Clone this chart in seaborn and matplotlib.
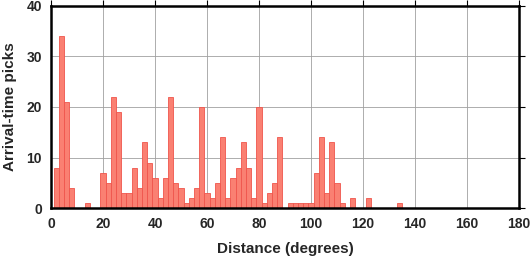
import matplotlib
matplotlib.use("Agg")
import matplotlib.pyplot as plt
import seaborn as sns
import numpy as np

# Bin centers (degrees) and arrival-time pick counts (2-degree bins)
distance = [2, 4, 6, 8, 14,
            20, 22, 24, 26, 28, 30, 32, 34, 36, 38, 40, 42, 44, 46, 48, 50,
            52, 54, 56, 58, 60, 62, 64, 66, 68, 70, 72, 74, 76, 78, 80, 82,
            84, 86, 88, 92, 94, 96, 98, 100, 102, 104, 106, 108, 110, 112,
            116, 122, 134]
picks = [8, 34, 21, 4, 1,
         7, 5, 22, 19, 3, 3, 8, 4, 13, 9, 6, 2, 6, 22, 5, 4,
         1, 2, 4, 20, 3, 2, 5, 14, 2, 6, 8, 13, 8, 2, 20, 1,
         3, 5, 14, 1, 1, 1, 1, 1, 7, 14, 3, 13, 5, 1,
         2, 2, 1]
xticks = [0, 20, 40, 60, 80, 100, 120, 140, 160, 180]
yticks = [0, 10, 20, 30, 40]

sns.set_style("white")
plt.rcParams['font.family'] = ['Liberation Sans', 'DejaVu Sans']

fig = plt.figure(figsize=(5.31, 2.58), dpi=100)
ax = fig.add_axes([51/531, 1-208/258, 468/531, 202/258])

sns.histplot(x=distance, weights=picks, binwidth=2, binrange=(1, 135),
             color="#FA8072", edgecolor="#F0554C", linewidth=0.6, alpha=1.0,
             ax=ax, zorder=3)

ax.set_xlim(0, 180)
ax.set_ylim(0, 40)
ax.set_xticks(xticks)
ax.set_yticks(yticks)
ax.grid(True, color="#a0a0a0", linewidth=0.6, zorder=0)
ax.set_axisbelow(True)
for s in ax.spines.values():
    s.set_visible(True)
    s.set_color("black")
    s.set_linewidth(1.8)
    s.set_zorder(5)
ax.tick_params(axis='both', direction='out', length=4.5, width=0.8, color='black',
               labelsize=10, top=True, right=True, labeltop=False, labelright=False, pad=2)
for lab in ax.get_xticklabels() + ax.get_yticklabels():
    lab.set_fontweight('bold')
ax.set_xlabel("Distance (degrees)", fontsize=11, fontweight='bold', labelpad=8)
ax.set_ylabel("Arrival-time picks", fontsize=11, fontweight='bold', labelpad=7)

fig.savefig("out.png", dpi=100)
